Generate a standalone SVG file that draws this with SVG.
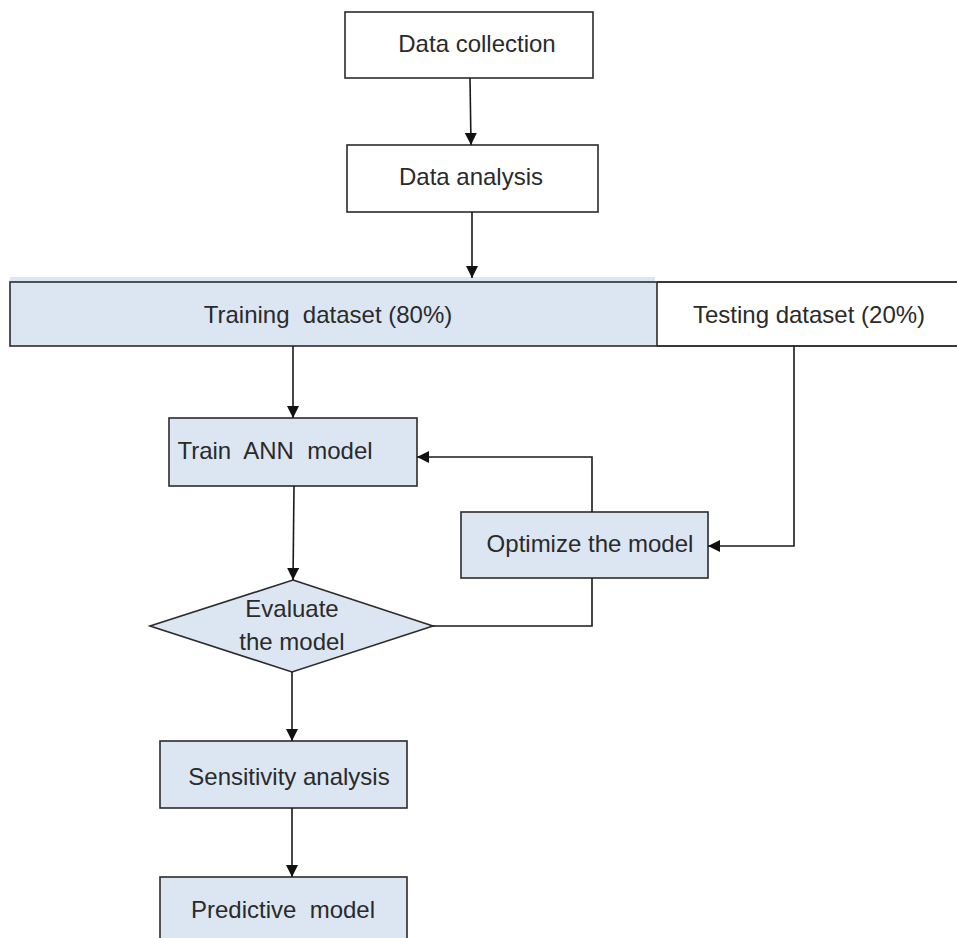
<svg xmlns="http://www.w3.org/2000/svg" width="957" height="938" viewBox="0 0 957 938">
<style>
.box{stroke:#2b2b2b;stroke-width:1.6}
.w{fill:#ffffff}
.b{fill:#dce6f2}
.t{font-family:"Liberation Sans",Arial,sans-serif;font-size:24px;fill:#2a2a2a;text-anchor:middle}
.c{fill:none;stroke:#1a1a1a;stroke-width:1.6}
</style>
<defs>
<marker id="ah" viewBox="0 0 12 12" refX="12" refY="6" markerWidth="12" markerHeight="12" markerUnits="userSpaceOnUse" orient="auto">
<path d="M0,0 L12,6 L0,12 Z" fill="#111"/>
</marker>
</defs>
<rect width="957" height="938" fill="#ffffff"/>
<g id="data-collection">
<rect class="box w" x="345" y="12" width="248" height="66"/>
<text class="t" x="477" y="52">Data collection</text>
</g>
<g id="data-analysis">
<rect class="box w" x="347" y="145" width="251" height="67"/>
<text class="t" x="471" y="185">Data analysis</text>
</g>
<g id="training">
<rect x="10" y="277" width="645" height="6" fill="#dce6f2"/>
<rect class="box b" x="10" y="282" width="647" height="64"/>
<text class="t" x="328" y="323" xml:space="preserve">Training  dataset (80%)</text>
</g>
<g id="testing">
<path d="M657,282 H960 M657,346 H960" class="box" fill="none"/>
<rect x="658" y="283" width="300" height="62" fill="#ffffff"/>
<path d="M657,282 H960 M657,346 H960" class="box" fill="none"/>
<text class="t" x="809" y="323">Testing dataset (20%)</text>
</g>
<g id="train-ann">
<rect class="box b" x="169" y="418" width="248" height="68"/>
<text class="t" x="275" y="459" xml:space="preserve">Train  ANN  model</text>
</g>
<g id="evaluate">
<polygon class="box b" points="293,580 433,626 292,672 150,626"/>
<text class="t" x="292" y="617">Evaluate</text>
<text class="t" x="292" y="650">the model</text>
</g>
<g id="optimize">
<rect class="box b" x="461" y="512" width="247" height="66"/>
<text class="t" x="590" y="552">Optimize the model</text>
</g>
<g id="sensitivity">
<rect class="box b" x="160" y="741" width="247" height="67"/>
<text class="t" x="289" y="785">Sensitivity analysis</text>
</g>
<g id="predictive">
<rect class="box b" x="160" y="877" width="247" height="70"/>
<text class="t" x="283" y="918" xml:space="preserve">Predictive  model</text>
</g>
<g id="connectors">
<path class="c" d="M470,78 L471,145" marker-end="url(#ah)"/>
<path class="c" d="M472,212 L472,278" marker-end="url(#ah)"/>
<path class="c" d="M293,346 L293,418" marker-end="url(#ah)"/>
<path class="c" d="M294,486 L293,580" marker-end="url(#ah)"/>
<path class="c" d="M592,512 L592,457 L417,457" marker-end="url(#ah)"/>
<path class="c" d="M794,346 L794,546 L708,546" marker-end="url(#ah)"/>
<path class="c" d="M592,578 L592,626 L433,626"/>
<path class="c" d="M292,672 L292,741" marker-end="url(#ah)"/>
<path class="c" d="M292,808 L292,877" marker-end="url(#ah)"/>
</g>
</svg>
